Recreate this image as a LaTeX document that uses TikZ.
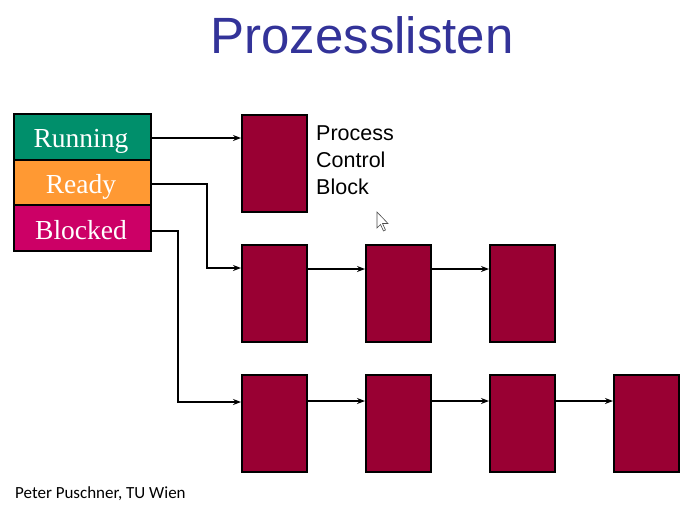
\documentclass[tikz,border=0pt]{standalone}
\usepackage{fontspec}
\setmainfont{Liberation Serif}
\setsansfont{Liberation Sans}
\newfontfamily\calibrifont{Carlito}
\usetikzlibrary{arrows.meta}
\definecolor{runcol}{RGB}{0,143,107}
\definecolor{readycol}{RGB}{255,153,51}
\definecolor{blockcol}{RGB}{204,0,102}
\definecolor{pcbcol}{RGB}{153,0,51}
\definecolor{titlecol}{RGB}{51,51,153}
\begin{document}
\begin{tikzpicture}[x=1pt,y=-1pt,
  statebox/.style={draw=black,line width=2pt,minimum width=137pt,minimum height=46pt,inner sep=0pt},
  statetext/.style={text=white,font=\fontsize{27.5}{29}\selectfont,anchor=base,inner sep=0pt},
  pcb/.style={draw=black,line width=2pt,fill=pcbcol,minimum width=65pt,minimum height=97pt,inner sep=0pt},
  conn/.style={line width=1.6pt,-{Stealth[length=8pt,width=6pt]}},
  thinconn/.style={line width=1.1pt,-{Stealth[length=8pt,width=6pt]}}]
\useasboundingbox (0,0) rectangle (691,507);
\fill[white] (0,0) rectangle (691,507);
% title
\node[font=\sffamily\fontsize{51}{54}\selectfont,text=titlecol] (title) at (362,35) {Prozesslisten};
% state boxes
\node[statebox,fill=runcol] (run) at (82.5,137) {};
\node[statebox,fill=readycol] (ready) at (82.5,182.5) {};
\node[statebox,fill=blockcol] (blocked) at (82.5,228) {};
\node[statetext] (runt) at (81,147.5) {Running};
\node[statetext] (readyt) at (81,193) {Ready};
\node[statetext] (blockedt) at (81,239) {Blocked};
% PCB boxes
\node[pcb] (p1) at (274.5,163) {};
\node[pcb] (r1) at (274.5,293) {};
\node[pcb] (r2) at (398.5,293) {};
\node[pcb] (r3) at (522.5,293) {};
\node[pcb] (b1) at (274.5,423) {};
\node[pcb] (b2) at (398.5,423) {};
\node[pcb] (b3) at (522.5,423) {};
\node[pcb] (b4) at (646.5,423) {};
% label
\node[font=\sffamily\fontsize{21.5}{27}\selectfont,align=left,anchor=north west,inner sep=0pt] (lbl) at (316,126) {Process\\Control\\Block};
% connectors
\draw[conn] (run.east |- 0,138) -- (p1.west |- 0,138);
\draw[conn] (ready.east |- 0,184) -| (207,268) -- (r1.west |- 0,268);
\draw[thinconn] (blocked.east |- 0,231) -| (178,402) -- (b1.west |- 0,402);
\draw[conn] (r1.east |- 0,269) -- (r2.west |- 0,269);
\draw[conn] (r2.east |- 0,269) -- (r3.west |- 0,269);
\draw[conn] (b1.east |- 0,401) -- (b2.west |- 0,401);
\draw[conn] (b2.east |- 0,401) -- (b3.west |- 0,401);
\draw[conn] (b3.east |- 0,401) -- (b4.west |- 0,401);
% cursor
\draw[fill=white,draw=black!70,line width=0.6pt,line join=miter] (377,212) -- (377,228) -- (380.5,224.5) -- (383.5,231) -- (385.5,230) -- (382.5,223.5) -- (388,223.5) -- cycle;
% footer
\node[font=\calibrifont\fontsize{17}{19}\selectfont,anchor=west,inner sep=0pt] (foot) at (15,494) {Peter Puschner, TU Wien};
\end{tikzpicture}
\end{document}
